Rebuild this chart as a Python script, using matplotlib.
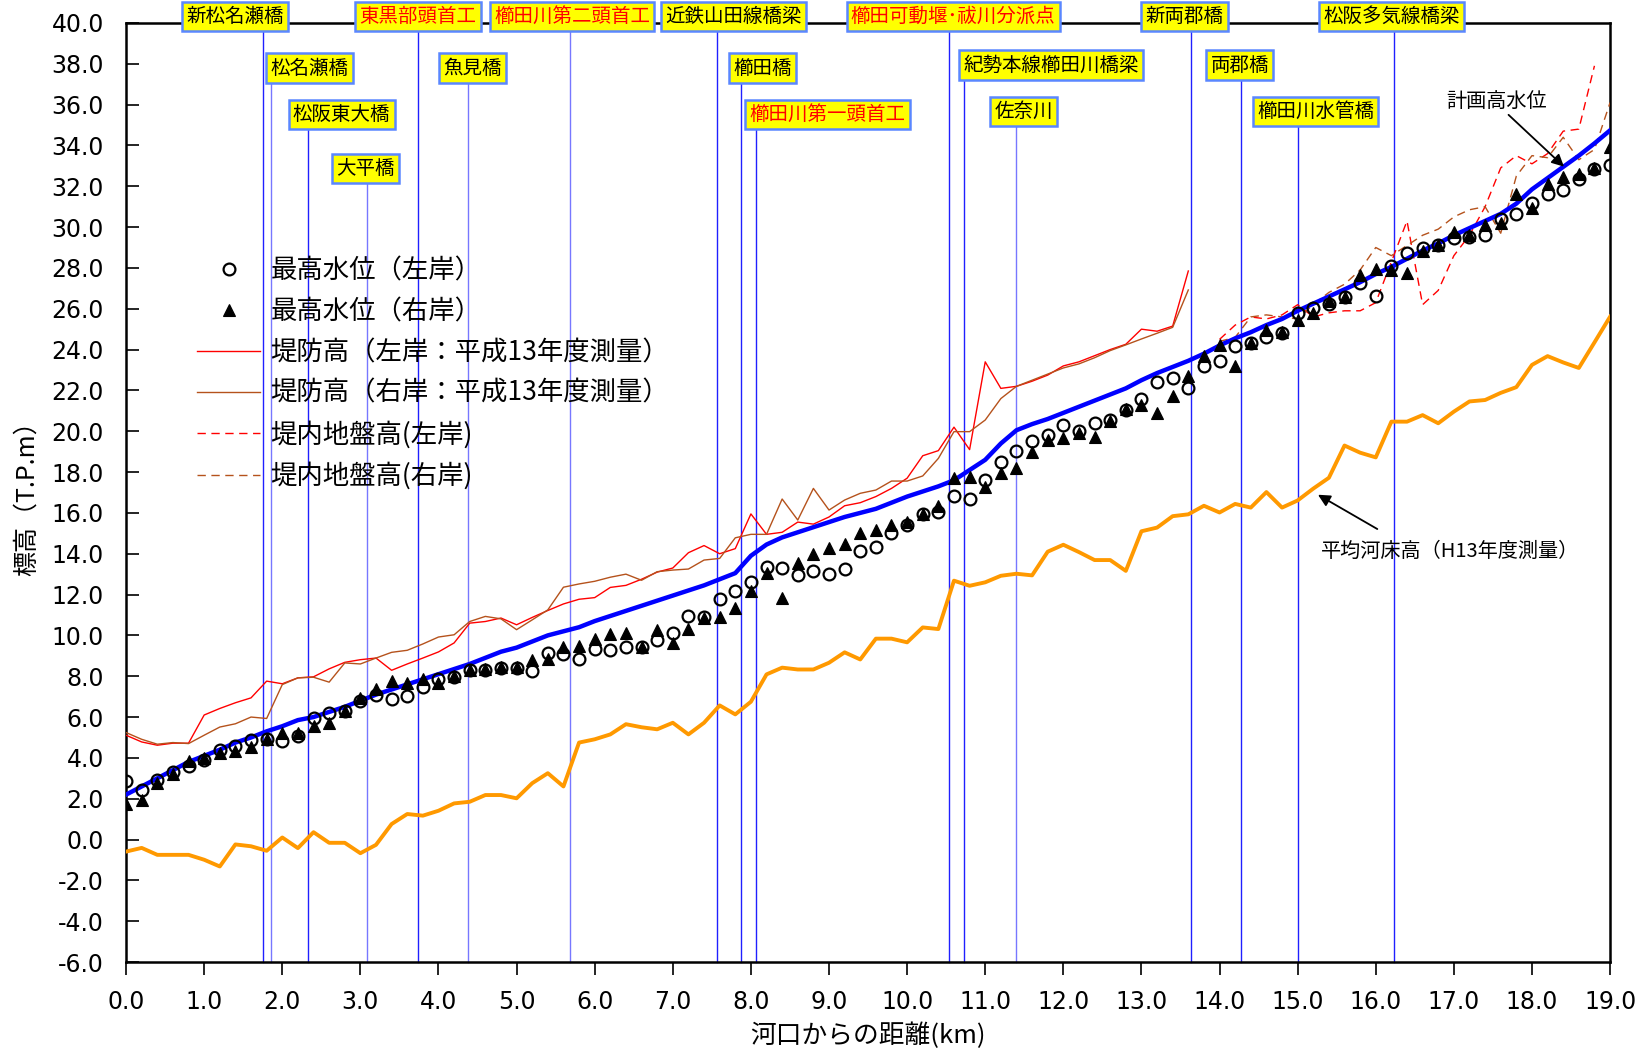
import numpy as np
import matplotlib
matplotlib.use("Agg")
import matplotlib.pyplot as plt
from matplotlib.ticker import MultipleLocator, FormatStrFormatter

plt.rcParams['font.family'] = ['Noto Sans CJK JP', 'DejaVu Sans']

# ---- distance from river mouth (km), survey points every 0.2 km ----
km = np.round(np.arange(0, 19.0001, 0.2), 1)

# highest water level, left bank (circles)
hwl_left = [2.85, 2.45, 2.9, 3.3, 3.6, 3.9, 4.37, 4.57, 4.88, 4.91,
            4.83, 5.07, 5.97, 6.18, 6.29, 6.78, 7.06, 6.86, 7.02, 7.48,
            7.84, 7.95, 8.29, 8.29, 8.41, 8.41, 8.28, 9.14, 9.11, 8.85,
            9.35, 9.3, 9.45, 9.45, 9.75, 10.1, 10.95, 10.9, 11.8, 12.15,
            12.6, 13.35, 13.3, 12.95, 13.15, 13.0, 13.25, 14.15, 14.35, 15.0,
            15.4, 15.95, 16.05, 16.85, 16.7, 17.6, 18.5, 19.05, 19.5, 19.8,
            20.3, 20.0, 20.4, 20.55, 21.05, 21.6, 22.4, 22.63, 22.1, 23.21,
            23.42, 24.16, 24.3, 24.61, 24.82, 25.79, 26.05, 26.23, 26.58, 27.28,
            26.61, 28.07, 28.72, 28.98, 29.1, 29.45, 29.5, 29.62, 30.4, 30.64,
            31.2, 31.62, 31.82, 32.35, 32.87, 33.05]

# highest water level, right bank (triangles)
hwl_right = [1.75, 1.95, 2.75, 3.22, 3.85, 3.97, 4.23, 4.33, 4.55, 4.91,
             5.2, 5.2, 5.56, 5.72, 6.29, 6.94, 7.38, 7.76, 7.67, 7.84,
             7.67, 8.0, 8.29, 8.36, 8.46, 8.46, 8.78, 8.85, 9.41, 9.5,
             9.82, 10.05, 10.1, 9.45, 10.25, 9.61, 10.29, 10.85, 10.88, 11.32,
             12.17, 13.04, 11.81, 13.56, 13.98, 14.26, 14.47, 15.0, 15.16, 15.41,
             15.57, 15.94, 16.34, 17.69, 17.77, 17.25, 17.94, 18.18, 19.0, 19.57,
             19.65, 19.9, 19.73, 20.52, 21.1, 21.3, 20.88, 21.75, 22.72, 23.68,
             24.21, 23.21, 24.3, 24.96, 24.86, 25.44, 25.79, 26.37, 26.58, 27.63,
             27.95, 27.89, 27.77, 28.82, 29.12, 29.75, 29.6, 30.1, 30.2, 31.63,
             30.95, 32.13, 32.46, 32.62, 32.9, 33.9]

# planned high water level
plan_hwl = [2.2, 2.6, 3.0, 3.4, 3.8, 4.1, 4.4, 4.75, 5.0, 5.3,
            5.55, 5.85, 6.0, 6.25, 6.5, 6.8, 7.1, 7.35, 7.6, 7.85,
            8.1, 8.35, 8.6, 8.9, 9.2, 9.4, 9.7, 10.0, 10.2, 10.4,
            10.7, 10.95, 11.2, 11.45, 11.7, 11.95, 12.2, 12.45, 12.75, 13.05,
            13.9, 14.45, 14.8, 15.05, 15.3, 15.55, 15.8, 16.0, 16.2, 16.5,
            16.8, 17.05, 17.3, 17.6, 18.1, 18.6, 19.4, 20.05, 20.35, 20.6,
            20.9, 21.2, 21.5, 21.8, 22.1, 22.5, 22.85, 23.15, 23.45, 23.8,
            24.2, 24.55, 24.85, 25.2, 25.5, 25.9, 26.25, 26.6, 26.95, 27.3,
            27.7, 28.05, 28.45, 28.85, 29.2, 29.6, 29.95, 30.3, 30.65, 31.15,
            31.85, 32.4, 32.95, 33.5, 34.1, 34.74]

# mean river bed (H13 survey)
bed = [-0.59, -0.41, -0.75, -0.75, -0.75, -0.99, -1.32, -0.24, -0.33, -0.55,
       0.10, -0.42, 0.36, -0.16, -0.16, -0.67, -0.26, 0.76, 1.25, 1.17,
       1.41, 1.77, 1.85, 2.18, 2.18, 2.02, 2.76, 3.25, 2.60, 4.75,
       4.91, 5.15, 5.65, 5.5, 5.4, 5.72, 5.15, 5.72, 6.57, 6.13,
       6.75, 8.09, 8.42, 8.33, 8.33, 8.66, 9.17, 8.82, 9.84, 9.84,
       9.66, 10.39, 10.31, 12.68, 12.43, 12.6, 12.92, 13.02, 12.94, 14.1,
       14.44, 14.08, 13.69, 13.69, 13.16, 15.1, 15.28, 15.84, 15.93, 16.35,
       16.02, 16.44, 16.26, 17.02, 16.26, 16.61, 17.19, 17.72, 19.3, 18.95,
       18.72, 20.47, 20.47, 20.79, 20.39, 20.96, 21.46, 21.53, 21.88, 22.16,
       23.25, 23.68, 23.37, 23.1, 24.35, 25.61]

# levee crown height (H13 survey), 0.0 - 13.6 km
levee_km = km[:69]
levee_left = [5.11, 4.78, 4.62, 4.72, 4.72, 6.1, 6.42, 6.7, 6.94, 7.76,
              7.63, 7.92, 7.97, 8.36, 8.68, 8.81, 8.89, 8.29, 8.6, 8.89,
              9.19, 9.63, 10.6, 10.68, 10.85, 10.52, 10.88, 11.22, 11.54, 11.77,
              11.85, 12.35, 12.45, 12.75, 13.1, 13.3, 14.05, 14.4, 14.0, 14.25,
              15.95, 14.95, 15.05, 15.55, 15.45, 15.8, 16.35, 16.5, 16.8, 17.2,
              17.7, 18.8, 19.05, 20.2, 19.1, 23.4, 22.1, 22.2, 22.45, 22.75,
              23.2, 23.4, 23.7, 24.0, 24.26, 25.0, 24.9, 25.15, 27.85]
levee_right = [5.24, 4.91, 4.67, 4.75, 4.7, 5.11, 5.51, 5.67, 6.0, 5.93,
               7.59, 7.92, 7.95, 7.71, 8.65, 8.6, 8.89, 9.17, 9.27, 9.58,
               9.92, 10.03, 10.68, 10.93, 10.81, 10.28, 10.76, 11.25, 12.36, 12.52,
               12.65, 12.85, 13.0, 12.7, 13.12, 13.2, 13.25, 13.69, 13.77, 14.78,
               14.95, 14.95, 16.68, 15.65, 17.2, 16.14, 16.63, 16.96, 17.12, 17.56,
               17.56, 17.81, 18.67, 19.98, 19.98, 20.55, 21.6, 22.2, 22.5, 22.8,
               23.1, 23.3, 23.6, 23.95, 24.23, 24.52, 24.8, 25.09, 26.92]

# ground height inside the levee
ground_left_km = km[70:95]      # 14.0 - 18.8 km
ground_left = [24.5, 25.2, 25.6, 25.5, 25.7, 26.2, 25.6, 25.8, 25.9, 25.9,
               26.3, 28.3, 30.3, 26.2, 26.9, 28.6, 29.6, 31.0, 32.9, 33.5,
               33.1, 33.6, 34.7, 34.8, 37.9]
ground_right_km = km[70:]       # 14.0 - 19.0 km
ground_right = [24.4, 24.6, 25.6, 25.7, 25.6, 25.5, 26.2, 26.8, 27.2, 27.9,
                29.0, 28.6, 29.1, 29.6, 29.9, 30.5, 30.85, 31.0, 29.7, 32.5,
                33.5, 33.4, 34.4, 33.3, 33.8, 36.1]

# structures crossing the river
struct_names = ['新松名瀬橋', '松名瀬橋', '松阪東大橋', '大平橋', '東黒部頭首工', '魚見橋',
                '櫛田川第二頭首工', '近鉄山田線橋梁', '櫛田橋', '櫛田川第一頭首工',
                '櫛田可動堰･祓川分派点', '紀勢本線櫛田川橋梁', '佐奈川', '新両郡橋',
                '両郡橋', '櫛田川水管橋', '松阪多気線橋梁']
struct_km = [1.75, 1.86, 2.33, 3.08, 3.74, 4.38, 5.68, 7.56, 7.87, 8.06,
             10.54, 10.73, 11.39, 13.63, 14.27, 15.01, 16.24]
struct_label_km = [1.40, 2.35, 2.76, 3.07, 3.74, 4.43, 5.71, 7.78, 8.15, 8.98,
                   10.59, 11.84, 11.49, 13.55, 14.26, 15.23, 16.20]
struct_label_y = [40.31, 37.78, 35.51, 32.88, 40.31, 37.78, 40.31, 40.31, 37.78, 35.51,
                  40.31, 37.94, 35.67, 40.31, 37.94, 35.67, 40.31]
struct_is_weir = [False, False, False, False, True, False, True, False, False, True,
                  True, False, False, False, False, False, False]
struct_light = [False, True, False, True, False, True, True, False, False, False,
                False, False, True, False, False, False, False]

# ---- figure ----
fig = plt.figure(figsize=(16.5, 10.53), dpi=100)
ax = fig.add_axes([0.0764, 0.0864, 0.8994, 0.8918])

BROWN = '#b5521c'

# structure lines and name boxes
for name, xk, lx, ly, weir, light in zip(struct_names, struct_km, struct_label_km,
                                          struct_label_y, struct_is_weir, struct_light):
    ax.plot([xk, xk], [-6, ly], color='#7777ff' if light else '#2020ff',
            lw=1.0, zorder=1, clip_on=False)
    ax.text(lx, ly, name, ha='center', va='center', fontsize=14,
            color='red' if weir else 'black', zorder=10, clip_on=False,
            bbox=dict(boxstyle='square,pad=0.22', facecolor='#ffff00',
                      edgecolor='#5a87ff', linewidth=1.8))

# series
ax.plot(km, bed, color='#ff9900', lw=2.8, zorder=3)
ax.plot(levee_km, levee_left, color='#ff0000', lw=1.0, zorder=3,
        label='堤防高（左岸：平成13年度測量）')
ax.plot(levee_km, levee_right, color=BROWN, lw=1.0, zorder=3,
        label='堤防高（右岸：平成13年度測量）')
ax.plot(ground_left_km, ground_left, color='#ff0000', lw=1.0, ls=(0, (6, 4)), zorder=3,
        label='堤内地盤高(左岸)')
ax.plot(ground_right_km, ground_right, color=BROWN, lw=1.0, ls=(0, (6, 4)), zorder=3,
        label='堤内地盤高(右岸)')
ax.plot(km, plan_hwl, color='#0000ff', lw=3.2, zorder=4)
ax.plot(km, hwl_left, ls='none', marker='o', ms=8.5, mfc='none', mec='black',
        mew=1.6, zorder=5, label='最高水位（左岸）')
ax.plot(km, hwl_right, ls='none', marker='^', ms=8.5, mfc='black', mec='black',
        mew=0.8, zorder=6, label='最高水位（右岸）')

# annotations
ax.annotate('', xy=(18.41, 32.96), xytext=(17.70, 35.5),
            arrowprops=dict(arrowstyle='-|>', color='black', lw=1.3,
                            mutation_scale=18, shrinkA=0, shrinkB=0), zorder=7)
ax.text(17.55, 36.15, '計画高水位', ha='center', va='center', fontsize=14.5, zorder=7)
ax.annotate('', xy=(15.26, 16.89), xytext=(16.02, 15.21),
            arrowprops=dict(arrowstyle='-|>', color='black', lw=1.3,
                            mutation_scale=18, shrinkA=0, shrinkB=0), zorder=7)
ax.text(15.30, 14.1, '平均河床高（H13年度測量）', ha='left', va='center',
        fontsize=14.5, zorder=7)

# axes
ax.set_xlim(0, 19)
ax.set_ylim(-6, 40)
ax.xaxis.set_major_locator(MultipleLocator(1))
ax.yaxis.set_major_locator(MultipleLocator(2))
ax.xaxis.set_major_formatter(FormatStrFormatter('%.1f'))
ax.yaxis.set_major_formatter(FormatStrFormatter('%.1f'))
ax.tick_params(axis='y', direction='in', length=9, width=1.2, pad=16, labelsize=17)
ax.tick_params(axis='x', direction='out', length=9, width=1.2, pad=11, labelsize=17)
for lab in ax.get_xticklabels() + ax.get_yticklabels():
    lab.set_fontfamily(['DejaVu Sans'])
for s in ax.spines.values():
    s.set_linewidth(1.8)
    s.set_zorder(2.5)

ax.set_xlabel('河口からの距離(km)', fontsize=18.5, labelpad=6)
ax.set_ylabel('標高（T.P.m）', fontsize=18, labelpad=8)

# legend
handles, labels = ax.get_legend_handles_labels()
order = ['最高水位（左岸）', '最高水位（右岸）', '堤防高（左岸：平成13年度測量）',
         '堤防高（右岸：平成13年度測量）', '堤内地盤高(左岸)', '堤内地盤高(右岸)']
hmap = dict(zip(labels, handles))
ax.legend([hmap[l] for l in order], order, loc='upper left',
          bbox_to_anchor=(0.0478, 0.750), frameon=False, fontsize=19,
          handlelength=2.4, handletextpad=0.38, labelspacing=0.52,
          borderpad=0, borderaxespad=0)

fig.savefig('out.png', dpi=100)
